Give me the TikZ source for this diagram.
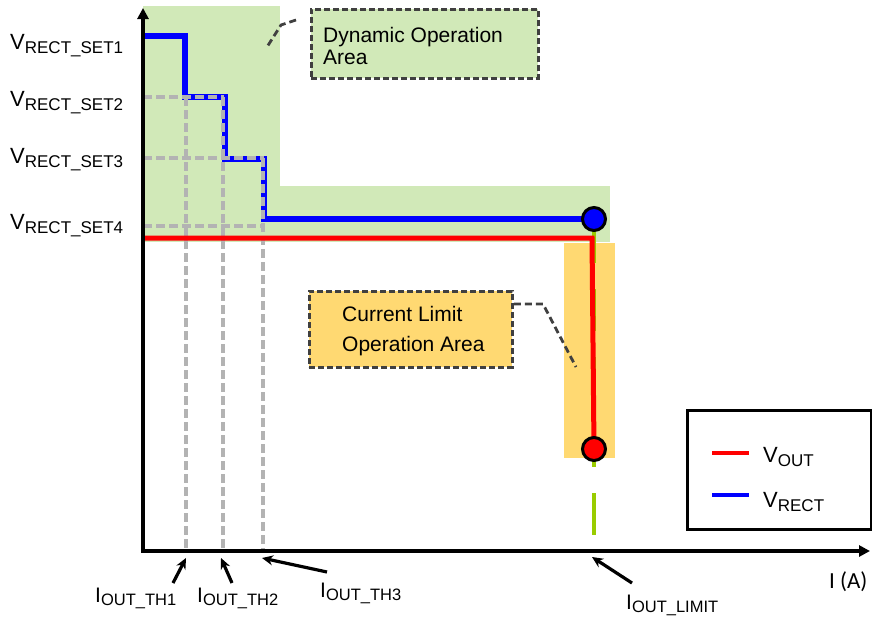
\documentclass[tikz,border=0pt]{standalone}
\usepackage{fontspec}
\setmainfont{Liberation Sans}
\newfontfamily\calfont{Carlito}
\usetikzlibrary{arrows.meta}
\definecolor{areagreen}{HTML}{D1E9B8}
\definecolor{areaorange}{HTML}{FFD972}
\definecolor{guidegray}{HTML}{B3B3B3}
\definecolor{boxborder}{HTML}{404040}
\definecolor{limegreen}{HTML}{99CC00}
\newcommand{\mainsz}{\fontsize{22}{26}\selectfont}
\newcommand{\subsz}{\fontsize{17}{20}\selectfont}
\newcommand{\sublab}[2]{{\mainsz #1}\raisebox{-4pt}{\subsz #2}}
\newcommand{\isublab}[2]{{\fontsize{21}{25}\selectfont #1}\raisebox{-3pt}{\fontsize{16.5}{20}\selectfont #2}}
\begin{document}
\begin{tikzpicture}[x=1pt,y=-1pt,
  guide/.style={guidegray, line width=3.5pt, dash pattern=on 9pt off 4pt},
  calloutbox/.style={draw=boxborder, line width=2.8pt, dash pattern=on 6pt off 3pt, rectangle, inner sep=0pt, anchor=north west},
  leader/.style={draw=boxborder, line width=2.8pt, dash pattern=on 7pt off 4pt},
  axlabel/.style={inner sep=0pt, anchor=base west, font=\mainsz},
  boxtext/.style={inner sep=0pt, anchor=base west, font=\fontsize{21}{25}\selectfont},
  ptr/.style={-{Stealth[length=11pt,width=10pt]}, line width=3.2pt},
  dotmark/.style={circle, draw=black, line width=3pt, minimum size=23pt, inner sep=0pt},
  axisline/.style={line width=3.4pt, black},
  vrectline/.style={blue, line width=5.5pt},
  voutline/.style={red, line width=5pt}]
\useasboundingbox (0,0) rectangle (872,619);

% areas
\fill[areagreen] (143,6) rectangle (280,242);
\fill[areagreen] (280,186) rectangle (610,242);
\fill[areaorange] (564,243) rectangle (615,458);

% key coordinates
\coordinate (origin) at (143,551);
\coordinate (ytop) at (143,8);
\coordinate (xend) at (870,551);
\coordinate (vrectc) at (594,219);
\coordinate (limitc) at (594,449);

% limit marker line
\draw[limegreen, line width=4.5pt, dash pattern=on 42pt off 26pt] (594,221) -- (594,551);

% VRECT staircase
\draw[vrectline] (143,36) -- (185,36) -- (185,97) -- (225,97) -- (225,159) -- (264,159) -- (264,219) -- (vrectc);

% guide lines
\draw[guide] (143,97) -- (224,97);
\draw[guide] (143,158) -- (264,158);
\draw[guide] (143,226) -- (264,226);
\draw[guide] (186,97) -- (186,551);
\draw[guide] (223,97) -- (223,551);
\draw[guide] (263,158) -- (263,551);

% VOUT
\draw[voutline] (143,238) -- (592,238) -- (limitc);

% axes
\draw[axisline, {Triangle[length=11pt,width=11pt]}-{Triangle[length=11pt,width=11pt]}] (ytop) -- (origin) -- (xend);

% markers
\node[dotmark, fill=blue] (vrectpt) at (vrectc) {};
\node[dotmark, fill=red] (limitpt) at (limitc) {};

% callouts
\node[calloutbox, fill=areagreen, minimum width=227pt, minimum height=69pt] (dynbox) at (310,8) {};
\node[boxtext] (dyn1) at (323,42) {Dynamic Operation};
\node[boxtext] (dyn2) at (323,64) {Area};
\coordinate (dynlead) at (296,20);
\coordinate (dynbend) at (281,25);
\coordinate (dyntip) at (267,47);
\draw[leader] (dynlead) -- (dynbend) -- (dyntip);

\node[calloutbox, fill=areaorange, minimum width=203pt, minimum height=76pt] (curbox) at (308,290) {};
\node[boxtext] (cur1) at (342,321) {Current Limit};
\node[boxtext] (cur2) at (342,351) {Operation Area};
\coordinate (curbend) at (543,304);
\coordinate (curtip) at (576,367);
\draw[leader] ([yshift=-14pt]curbox.north east) -- (curbend) -- (curtip);

% legend
\node[draw=black, line width=3.2pt, minimum width=184pt, minimum height=119pt, anchor=north west, inner sep=0pt] (legend) at (686,409) {};
\coordinate (legr1) at (712,453);
\coordinate (legr2) at (749,453);
\coordinate (legb1) at (712,495);
\coordinate (legb2) at (749,495);
\draw[red, line width=3.8pt] (legr1) -- (legr2);
\draw[blue, line width=3.8pt] (legb1) -- (legb2);
\node[axlabel] (legout) at (763,462) {\sublab{V}{OUT}};
\node[axlabel] (legrect) at (763,507) {\sublab{V}{RECT}};

% y labels
\node[axlabel] (vset1) at (10,49) {\sublab{V}{RECT\_SET1}};
\node[axlabel] (vset2) at (10,106) {\sublab{V}{RECT\_SET2}};
\node[axlabel] (vset3) at (10,163) {\sublab{V}{RECT\_SET3}};
\node[axlabel] (vset4) at (10,229) {\sublab{V}{RECT\_SET4}};

% x labels
\node[axlabel] (ith1) at (95,602) {\isublab{I}{OUT\_TH1}};
\node[axlabel] (ith2) at (197,602) {\isublab{I}{OUT\_TH2}};
\node[axlabel] (ith3) at (320,597) {\isublab{I}{OUT\_TH3}};
\node[axlabel] (ilim) at (626,609) {\isublab{I}{OUT\_LIMIT}};
\node[inner sep=0pt, anchor=base west, font=\calfont\fontsize{23}{27}\selectfont] (iaxis) at (829,588) {I (A)};

% pointers
\coordinate (th1tail) at (173,583);
\coordinate (th1pt) at (186,558);
\coordinate (th2tail) at (232,583);
\coordinate (th2pt) at (221,558);
\coordinate (th3tail) at (327,572);
\coordinate (th3pt) at (262,558);
\coordinate (limtail) at (632,583);
\coordinate (limpt) at (592,557);
\draw[ptr] (th1tail) -- (th1pt);
\draw[ptr] (th2tail) -- (th2pt);
\draw[ptr] (th3tail) -- (th3pt);
\draw[ptr] (limtail) -- (limpt);
\end{tikzpicture}
\end{document}
